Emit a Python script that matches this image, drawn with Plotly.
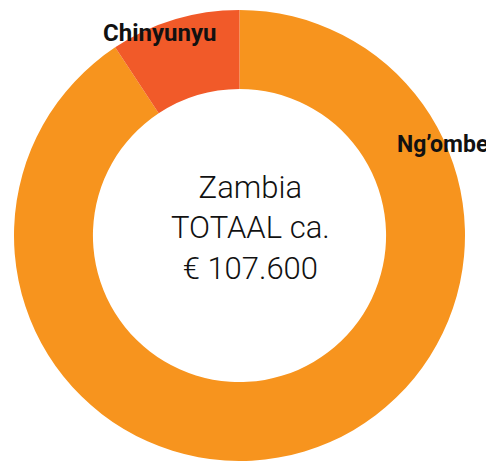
import plotly.graph_objects as go

labels = ["Ng’ombe", "Chinyunyu"]
values = [97600, 10000]
colors = ["#F7941E", "#F15A29"]
center_lines = ["Zambia", "TOTAAL ca.", "€ 107.600"]

# page has an 8px body margin: figure occupies page x 8..494, y 8..461
OFF = 8
W, H = 494 - OFF, 461 - OFF

def px(x, y):
    return (x - OFF) / W, 1 - (y - OFF) / H

cx, R, top = 239.5, 225.5, 10
x0, _ = px(cx - R, 0)
x1, _ = px(cx + R, 0)
_, ytop = px(0, top)

fig = go.Figure(go.Pie(
    labels=labels,
    values=values,
    hole=0.65,
    sort=False,
    direction="clockwise",
    rotation=0,
    marker=dict(colors=colors, line=dict(width=0)),
    textinfo="none",
    hoverinfo="label+value",
    showlegend=False,
    domain=dict(x=[x0, x1], y=[0, ytop]),
))

label_style = {"Chinyunyu": ((159, 33), 24), "Ng’ombe": ((442.5, 144), 23)}
for name in labels:
    (lx, ly), size = label_style[name]
    ax, ay = px(lx, ly)
    fig.add_annotation(x=ax, y=ay, xref="paper", yref="paper", text=name,
                       showarrow=False, xanchor="center", yanchor="middle",
                       font=dict(family="Roboto", size=size, color="#111111", weight=700))

ax, ay = px(250, 228)
fig.add_annotation(x=ax, y=ay, xref="paper", yref="paper",
                   text="<br>".join(center_lines), showarrow=False,
                   xanchor="center", yanchor="middle", align="center",
                   font=dict(family="Roboto", size=31, color="#111111", weight=300))

fig.update_layout(width=W, height=H, margin=dict(l=0, r=0, t=0, b=0),
                  paper_bgcolor="white", plot_bgcolor="white")

fig.write_html("out.html")
